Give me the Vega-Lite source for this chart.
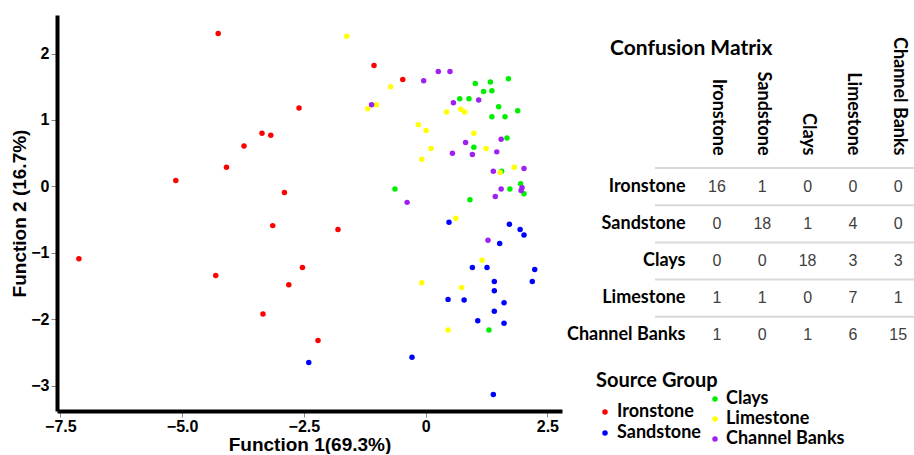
{
  "$schema": "https://vega.github.io/schema/vega-lite/v6.json",
  "autosize": {"type": "pad"},
  "padding": {"left": 10, "top": 15, "right": 0, "bottom": 0},
  "background": "white",
  "bounds": "flush",
  "spacing": 93,
  "datasets": {
    "pts": [
      {"group": "Ironstone", "f1": -4.26, "f2": 2.30},
      {"group": "Ironstone", "f1": -2.60, "f2": 1.18},
      {"group": "Ironstone", "f1": -3.36, "f2": 0.80},
      {"group": "Ironstone", "f1": -3.18, "f2": 0.77},
      {"group": "Ironstone", "f1": -3.73, "f2": 0.61},
      {"group": "Ironstone", "f1": -4.09, "f2": 0.29},
      {"group": "Ironstone", "f1": -5.13, "f2": 0.09},
      {"group": "Ironstone", "f1": -2.90, "f2": -0.09},
      {"group": "Ironstone", "f1": -3.14, "f2": -0.59},
      {"group": "Ironstone", "f1": -7.12, "f2": -1.09},
      {"group": "Ironstone", "f1": -4.31, "f2": -1.34},
      {"group": "Ironstone", "f1": -2.81, "f2": -1.48},
      {"group": "Ironstone", "f1": -3.34, "f2": -1.92},
      {"group": "Ironstone", "f1": -1.80, "f2": -0.65},
      {"group": "Ironstone", "f1": -2.53, "f2": -1.22},
      {"group": "Ironstone", "f1": -2.21, "f2": -2.32},
      {"group": "Ironstone", "f1": -1.06, "f2": 1.82},
      {"group": "Ironstone", "f1": -0.47, "f2": 1.61},
      {"group": "Sandstone", "f1": -2.40, "f2": -2.65},
      {"group": "Sandstone", "f1": -0.28, "f2": -2.57},
      {"group": "Sandstone", "f1": 0.48, "f2": -0.54},
      {"group": "Sandstone", "f1": 1.72, "f2": -0.57},
      {"group": "Sandstone", "f1": 1.94, "f2": -0.65},
      {"group": "Sandstone", "f1": 2.02, "f2": -0.73},
      {"group": "Sandstone", "f1": 1.52, "f2": -0.86},
      {"group": "Sandstone", "f1": 0.96, "f2": -1.22},
      {"group": "Sandstone", "f1": 1.26, "f2": -1.22},
      {"group": "Sandstone", "f1": 2.24, "f2": -1.25},
      {"group": "Sandstone", "f1": 2.19, "f2": -1.43},
      {"group": "Sandstone", "f1": 1.41, "f2": -1.43},
      {"group": "Sandstone", "f1": 1.41, "f2": -1.57},
      {"group": "Sandstone", "f1": 0.46, "f2": -1.70},
      {"group": "Sandstone", "f1": 0.79, "f2": -1.71},
      {"group": "Sandstone", "f1": 1.61, "f2": -1.75},
      {"group": "Sandstone", "f1": 1.41, "f2": -1.88},
      {"group": "Sandstone", "f1": 1.07, "f2": -2.02},
      {"group": "Sandstone", "f1": 1.61, "f2": -2.06},
      {"group": "Sandstone", "f1": 1.39, "f2": -3.13},
      {"group": "Clays", "f1": 0.91, "f2": -0.20},
      {"group": "Clays", "f1": 1.30, "f2": -2.16},
      {"group": "Clays", "f1": 1.02, "f2": 1.55},
      {"group": "Clays", "f1": 1.33, "f2": 1.57},
      {"group": "Clays", "f1": 1.70, "f2": 1.62},
      {"group": "Clays", "f1": 1.19, "f2": 1.43},
      {"group": "Clays", "f1": 1.36, "f2": 1.44},
      {"group": "Clays", "f1": 0.70, "f2": 1.32},
      {"group": "Clays", "f1": 0.89, "f2": 1.32},
      {"group": "Clays", "f1": 1.50, "f2": 1.20},
      {"group": "Clays", "f1": 1.89, "f2": 1.14},
      {"group": "Clays", "f1": 1.36, "f2": 1.05},
      {"group": "Clays", "f1": 1.63, "f2": 1.05},
      {"group": "Clays", "f1": 1.67, "f2": 0.73},
      {"group": "Clays", "f1": 0.99, "f2": 0.59},
      {"group": "Clays", "f1": 1.56, "f2": 0.23},
      {"group": "Clays", "f1": 1.95, "f2": 0.04},
      {"group": "Clays", "f1": 2.02, "f2": -0.11},
      {"group": "Clays", "f1": 1.73, "f2": -0.04},
      {"group": "Clays", "f1": -0.63, "f2": -0.04},
      {"group": "Limestone", "f1": -1.62, "f2": 2.26},
      {"group": "Limestone", "f1": -0.72, "f2": 1.50},
      {"group": "Limestone", "f1": -1.01, "f2": 1.23},
      {"group": "Limestone", "f1": -1.19, "f2": 1.17},
      {"group": "Limestone", "f1": 0.43, "f2": 1.12},
      {"group": "Limestone", "f1": 0.72, "f2": 1.16},
      {"group": "Limestone", "f1": 0.80, "f2": 1.12},
      {"group": "Limestone", "f1": -0.15, "f2": 0.93},
      {"group": "Limestone", "f1": 0.01, "f2": 0.84},
      {"group": "Limestone", "f1": 0.99, "f2": 0.80},
      {"group": "Limestone", "f1": 1.24, "f2": 0.57},
      {"group": "Limestone", "f1": 0.11, "f2": 0.57},
      {"group": "Limestone", "f1": -0.08, "f2": 0.41},
      {"group": "Limestone", "f1": 1.53, "f2": 0.21},
      {"group": "Limestone", "f1": 1.82, "f2": 0.29},
      {"group": "Limestone", "f1": 0.62, "f2": -0.48},
      {"group": "Limestone", "f1": 1.16, "f2": -1.11},
      {"group": "Limestone", "f1": -0.08, "f2": -1.45},
      {"group": "Limestone", "f1": 0.74, "f2": -1.52},
      {"group": "Limestone", "f1": 0.46, "f2": -2.16},
      {"group": "Channel Banks", "f1": -0.04, "f2": 1.59},
      {"group": "Channel Banks", "f1": 0.26, "f2": 1.73},
      {"group": "Channel Banks", "f1": 0.50, "f2": 1.73},
      {"group": "Channel Banks", "f1": 1.09, "f2": 1.30},
      {"group": "Channel Banks", "f1": 0.57, "f2": 1.26},
      {"group": "Channel Banks", "f1": -1.11, "f2": 1.23},
      {"group": "Channel Banks", "f1": 1.55, "f2": 0.71},
      {"group": "Channel Banks", "f1": 0.82, "f2": 0.66},
      {"group": "Channel Banks", "f1": 0.55, "f2": 0.50},
      {"group": "Channel Banks", "f1": 0.96, "f2": 0.48},
      {"group": "Channel Banks", "f1": 1.46, "f2": 0.52},
      {"group": "Channel Banks", "f1": 1.39, "f2": 0.23},
      {"group": "Channel Banks", "f1": 2.02, "f2": 0.27},
      {"group": "Channel Banks", "f1": 1.98, "f2": -0.02},
      {"group": "Channel Banks", "f1": 1.96, "f2": -0.06},
      {"group": "Channel Banks", "f1": 1.55, "f2": -0.04},
      {"group": "Channel Banks", "f1": 1.43, "f2": -0.15},
      {"group": "Channel Banks", "f1": -0.38, "f2": -0.24},
      {"group": "Channel Banks", "f1": 1.28, "f2": -0.81}
    ],
    "cm": [
      {"actual": "Ironstone", "predicted": "Ironstone", "n": 16},
      {"actual": "Ironstone", "predicted": "Sandstone", "n": 1},
      {"actual": "Ironstone", "predicted": "Clays", "n": 0},
      {"actual": "Ironstone", "predicted": "Limestone", "n": 0},
      {"actual": "Ironstone", "predicted": "Channel Banks", "n": 0},
      {"actual": "Sandstone", "predicted": "Ironstone", "n": 0},
      {"actual": "Sandstone", "predicted": "Sandstone", "n": 18},
      {"actual": "Sandstone", "predicted": "Clays", "n": 1},
      {"actual": "Sandstone", "predicted": "Limestone", "n": 4},
      {"actual": "Sandstone", "predicted": "Channel Banks", "n": 0},
      {"actual": "Clays", "predicted": "Ironstone", "n": 0},
      {"actual": "Clays", "predicted": "Sandstone", "n": 0},
      {"actual": "Clays", "predicted": "Clays", "n": 18},
      {"actual": "Clays", "predicted": "Limestone", "n": 3},
      {"actual": "Clays", "predicted": "Channel Banks", "n": 3},
      {"actual": "Limestone", "predicted": "Ironstone", "n": 1},
      {"actual": "Limestone", "predicted": "Sandstone", "n": 1},
      {"actual": "Limestone", "predicted": "Clays", "n": 0},
      {"actual": "Limestone", "predicted": "Limestone", "n": 7},
      {"actual": "Limestone", "predicted": "Channel Banks", "n": 1},
      {"actual": "Channel Banks", "predicted": "Ironstone", "n": 1},
      {"actual": "Channel Banks", "predicted": "Sandstone", "n": 0},
      {"actual": "Channel Banks", "predicted": "Clays", "n": 1},
      {"actual": "Channel Banks", "predicted": "Limestone", "n": 6},
      {"actual": "Channel Banks", "predicted": "Channel Banks", "n": 15}
    ]
  },
  "hconcat": [
    {
      "width": 505,
      "height": 396,
      "data": {"name": "pts"},
      "encoding": {
        "x": {
          "field": "f1", "type": "quantitative",
          "scale": {"domain": [-7.57, 2.8], "nice": false, "zero": false},
          "axis": {
            "values": [-7.5, -5, -2.5, 0, 2.5],
            "labelExpr": "datum.value === 0 ? '0' : format(datum.value, '.1f')",
            "title": "Function 1(69.3%)",
            "labelPadding": 1,
            "titlePadding": 1
          }
        },
        "y": {
          "field": "f2", "type": "quantitative",
          "scale": {"domain": [-3.38, 2.58], "nice": false, "zero": false},
          "axis": {
            "values": [-3, -2, -1, 0, 1, 2],
            "title": "Function 2 (16.7%)",
            "labelPadding": 2,
            "titlePadding": 1
          }
        }
      },
      "layer": [
        {
          "transform": [{"filter": "datum.group === 'Ironstone' || datum.group === 'Sandstone'"}],
          "mark": {"type": "point", "filled": true, "size": 30, "opacity": 1},
          "encoding": {
            "color": {
              "field": "group", "type": "nominal",
              "scale": {"domain": ["Ironstone", "Sandstone"], "range": ["#ff0000", "#0000ff"]},
              "legend": {
                "title": "Source Group",
                "orient": "none",
                "legendX": 539,
                "legendY": 356,
                "titlePadding": 12,
                "rowPadding": 3,
                "symbolOffset": 0,
                "labelOffset": 3
              }
            }
          }
        },
        {
          "transform": [{"filter": "datum.group !== 'Ironstone' && datum.group !== 'Sandstone'"}],
          "mark": {"type": "point", "filled": true, "size": 30, "opacity": 1},
          "encoding": {
            "fill": {
              "field": "group", "type": "nominal",
              "scale": {"domain": ["Clays", "Limestone", "Channel Banks"], "range": ["#00ee00", "#ffff00", "#a020f0"]},
              "legend": {
                "title": null,
                "orient": "none",
                "legendX": 649,
                "legendY": 375,
                "rowPadding": 2,
                "symbolOffset": 0,
                "labelOffset": 2
              }
            }
          }
        }
      ]
    },
    {
      "width": 259,
      "height": 339,
      "data": {"name": "cm"},
      "title": {
        "text": "Confusion Matrix",
        "anchor": "start",
        "frame": "group",
        "dx": -45,
        "offset": -44,
        "font": "Lato",
        "fontSize": 21,
        "fontWeight": "bold",
        "color": "#000000"
      },
      "encoding": {
        "y": {
          "field": "actual", "type": "nominal",
          "sort": ["Ironstone", "Sandstone", "Clays", "Limestone", "Channel Banks"],
          "scale": {"range": [153, 339], "paddingInner": 0, "paddingOuter": 0},
          "axis": {
            "orient": "left", "offset": -30, "title": null,
            "ticks": false, "tickSize": 0, "domain": false, "labelPadding": 0,
            "labelFont": "Lato", "labelFontSize": 18, "labelFontWeight": "bold",
            "labelColor": "#000000", "labelAlign": "right", "labelBaseline": "middle"
          }
        }
      },
      "layer": [
        {
          "transform": [{"filter": "datum.predicted === 'Ironstone'"}],
          "mark": {"type": "rule", "color": "#d9d9d9", "strokeWidth": 2},
          "encoding": {
            "y": {
              "field": "actual", "type": "nominal", "bandPosition": 0,
              "sort": ["Ironstone", "Sandstone", "Clays", "Limestone", "Channel Banks"]
            }
          }
        },
        {
          "mark": {"type": "text", "font": "Liberation Sans", "fontSize": 16, "color": "#404040"},
          "encoding": {
            "x": {
              "field": "predicted", "type": "nominal",
              "sort": ["Ironstone", "Sandstone", "Clays", "Limestone", "Channel Banks"],
              "scale": {"range": [39.35, 265.85], "paddingInner": 0, "paddingOuter": 0},
              "axis": {
                "orient": "top", "offset": -153, "title": null,
                "labelAngle": 90, "labelAlign": "right", "labelBaseline": "middle",
                "labelPadding": 13, "ticks": false, "tickSize": 0, "domain": false,
                "labelFont": "Lato", "labelFontSize": 18, "labelFontWeight": "bold",
                "labelColor": "#000000"
              }
            },
            "text": {"field": "n", "type": "quantitative"}
          }
        }
      ]
    }
  ],
  "resolve": {"legend": {"color": "independent", "fill": "independent"}},
  "config": {
    "view": {"stroke": null},
    "axis": {
      "grid": false,
      "domainColor": "#000000",
      "domainWidth": 4,
      "tickColor": "#888888",
      "tickSize": 6,
      "tickWidth": 1,
      "labelFont": "Liberation Sans",
      "labelFontWeight": "bold",
      "labelFontSize": 16,
      "labelColor": "#000000",
      "titleFont": "Liberation Sans",
      "titleFontWeight": "bold",
      "titleFontSize": 19,
      "titleColor": "#000000"
    },
    "legend": {
      "padding": 0,
      "titleFont": "Lato",
      "titleFontSize": 20,
      "titleFontWeight": "bold",
      "titleColor": "#000000",
      "labelFont": "Lato",
      "labelFontSize": 18,
      "labelFontWeight": "bold",
      "labelColor": "#000000",
      "symbolType": "circle",
      "symbolSize": 30,
      "symbolStrokeWidth": 0
    }
  }
}
